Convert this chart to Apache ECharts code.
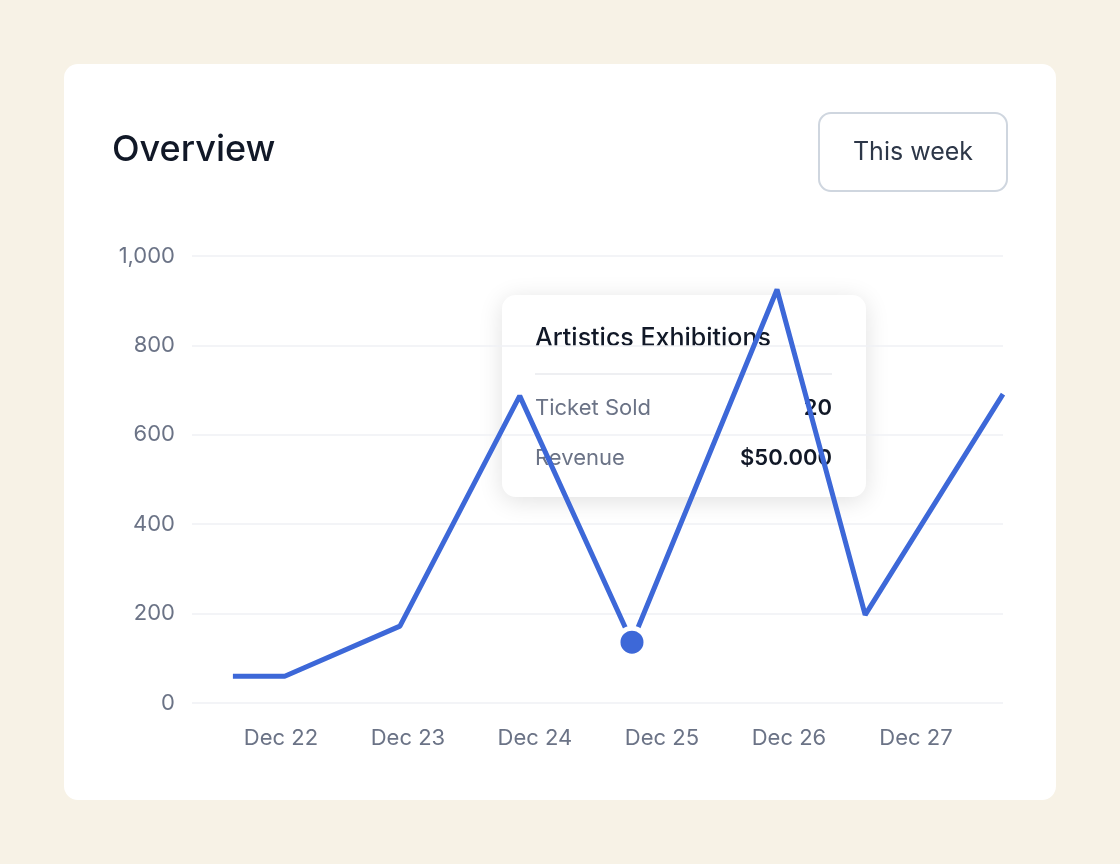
<!DOCTYPE html>
<html><head><meta charset="utf-8">
<script src="https://cdn.jsdelivr.net/npm/echarts@6/dist/echarts.min.js"></script>
<style>
html,body{margin:0;padding:0;background:#f7f2e6;width:1120px;height:864px;overflow:hidden;font-family:Inter,sans-serif}
#card{position:absolute;left:64px;top:64px;width:992px;height:736px;background:#fff;border-radius:14px}
#c{position:absolute;left:0;top:0;width:1120px;height:864px}
</style></head><body>
<div id="card"></div><div id="c"></div>
<script>
const tickLabels = ['Dec 22','Dec 23','Dec 24','Dec 25','Dec 26','Dec 27'];
const xPos = [-0.378, 0.03, 0.937, 1.88, 2.764, 3.906, 4.6, 5.685];
const yVals = [60, 60, 172, 687, 136, 925, 197, 691];
const highlight = [2.764, 136];
const tipTitle = 'Artistics Exhibitions';
const tipRows = [['Ticket Sold','20'],['Revenue','$50.000']];

const chart = echarts.init(document.getElementById('c'), null, {renderer:'canvas'});
const F = 'Inter, sans-serif';
chart.setOption({
  animation:false,
  grid:{left:192,right:117,top:256,bottom:161},
  xAxis:{type:'value',min:-0.70,max:5.685,
    axisLine:{show:false},axisTick:{show:false},splitLine:{show:false},
    axisLabel:{customValues:[0,1,2,3,4,5],formatter:v=>tickLabels[Math.round(v)],
      color:'#6b7386',fontSize:22,fontFamily:F,margin:24}},
  yAxis:{type:'value',min:0,max:1000,interval:200,
    axisLine:{show:false},axisTick:{show:false},
    splitLine:{lineStyle:{color:'#eff1f4',width:1.5}},
    axisLabel:{color:'#6b7386',fontSize:22,fontFamily:F,margin:17,
      formatter:v=>v.toLocaleString('en-US')}},
  series:[
    {type:'line',data:xPos.map((x,i)=>[x,yVals[i]]),showSymbol:false,
     lineStyle:{color:'#3d68d8',width:5},z:2},
    {type:'scatter',data:[highlight],symbolSize:28,
     itemStyle:{color:'#3d68d8',borderColor:'#fff',borderWidth:5,opacity:1},z:5}
  ],
  graphic:[
    {type:'text',left:112,top:132,style:{text:'Overview',font:'500 36px '+F,fill:'#111827'}},
    {type:'rect',shape:{x:819,y:113,width:188,height:78,r:12},
     style:{fill:'#fff',stroke:'#cfd6df',lineWidth:2}},
    {type:'text',x:913,y:152,style:{text:'This week',font:'25px '+F,fill:'#2d3748',align:'center',verticalAlign:'middle'}},
    {type:'group',zlevel:1,children:[
      {type:'rect',shape:{x:502,y:295,width:364,height:202,r:14},
       style:{fill:'#fff',shadowBlur:24,shadowColor:'rgba(0,0,0,0.12)',shadowOffsetY:4}},
      {type:'text',x:535,y:338,style:{text:tipTitle,font:'500 25px '+F,fill:'#111827',verticalAlign:'middle'}},
      {type:'line',shape:{x1:535,y1:374,x2:832,y2:374},style:{stroke:'#e8eaee',lineWidth:1.5}},
      {type:'text',x:535,y:408,style:{text:tipRows[0][0],font:'22px '+F,fill:'#6b7386',verticalAlign:'middle'}},
      {type:'text',x:832,y:408,style:{text:tipRows[0][1],font:'600 22px '+F,fill:'#111827',align:'right',verticalAlign:'middle'}},
      {type:'text',x:535,y:458,style:{text:tipRows[1][0],font:'22px '+F,fill:'#6b7386',verticalAlign:'middle'}},
      {type:'text',x:832,y:458,style:{text:tipRows[1][1],font:'600 22px '+F,fill:'#111827',align:'right',verticalAlign:'middle'}}
    ]}
  ]
});
</script></body></html>
